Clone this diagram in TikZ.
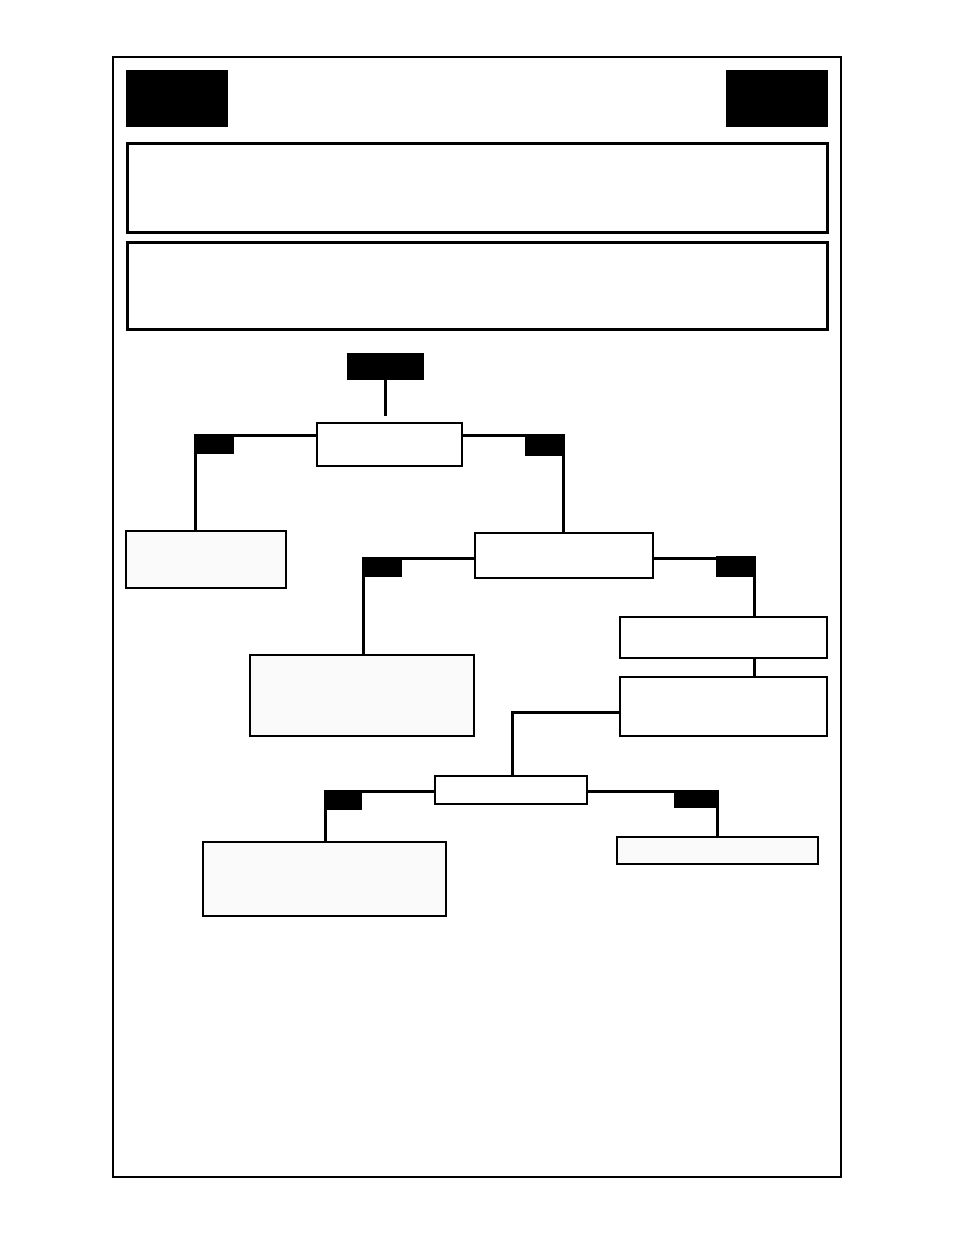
\documentclass[tikz,border=0pt]{standalone}
\definecolor{boxgray}{HTML}{FAFAFA}
\begin{document}
\begin{tikzpicture}[x=1pt,y=-1pt,
  base/.style={inner sep=0pt,outer sep=0pt,anchor=north west},
  frame/.style={base,draw,line width=2pt},
  panel/.style={base,draw,line width=3pt},
  blk/.style={base,fill=black,draw=none},
  box/.style={base,draw,line width=1.8pt,fill=white},
  gbox/.style={box,fill=boxgray},
  conn/.style={line width=3pt},
  tabl/.style={base,fill=black,draw=none},
  tabr/.style={inner sep=0pt,outer sep=0pt,anchor=north east,fill=black,draw=none}]
\useasboundingbox (0,0) rectangle (954,1235);
\fill[white] (0,0) rectangle (954,1235);
% frame and header
\node[frame,minimum width=728pt,minimum height=1120pt] (frm) at (113,57) {};
\node[blk,minimum width=102pt,minimum height=57pt] (hl) at (126,70) {};
\node[blk,minimum width=102pt,minimum height=57pt] (hr) at (726,70) {};
\node[panel,minimum width=700pt,minimum height=89pt] (p1) at (127,143) {};
\node[panel,minimum width=700pt,minimum height=87pt] (p2) at (127,242) {};
% tree nodes
\node[blk,minimum width=77pt,minimum height=27pt] (top) at (347,353) {};
\node[box,minimum width=145pt,minimum height=43pt] (a) at (317,423) {};
\node[gbox,minimum width=160pt,minimum height=57pt] (l1) at (126,531) {};
\node[box,minimum width=178pt,minimum height=45pt] (b) at (475,533) {};
\node[gbox,minimum width=224pt,minimum height=81pt] (l2) at (250,655) {};
\node[box,minimum width=207pt,minimum height=41pt] (c1) at (620,617) {};
\node[box,minimum width=207pt,minimum height=59pt] (c2) at (620,677) {};
\node[box,minimum width=152pt,minimum height=28pt] (d) at (435,776) {};
\node[gbox,minimum width=243pt,minimum height=74pt] (l3) at (203,842) {};
\node[gbox,minimum width=201pt,minimum height=27pt] (r3) at (617,837) {};
\draw[line width=1.8pt] (l3.south west) -- (l3.south east);
% junctions
\coordinate (k0) at (385.5,416);
\coordinate (j1) at (195,435);
\coordinate (j2) at (563,435);
\coordinate (j3) at (363,558);
\coordinate (j4) at (754,558);
\coordinate (j5) at (512,712);
\coordinate (j6) at (325,791);
\coordinate (j7) at (717,791);
% connectors
\draw[conn] (top.south) -- (k0);
\draw[conn] (a.west |- j1) -- (j1) -- (j1 |- l1.north);
\draw[conn] (a.east |- j2) -- (j2) -- (j2 |- b.north);
\draw[conn] (b.west |- j3) -- (j3) -- (j3 |- l2.north);
\draw[conn] (b.east |- j4) -- (j4) -- (j4 |- c1.north);
\draw[conn] (j4 |- c1.south) -- (j4 |- c2.north);
\draw[conn] (c2.west |- j5) -- (j5) -- (j5 |- d.north);
\draw[conn] (d.west |- j6) -- (j6) -- (j6 |- l3.north);
\draw[conn] (d.east |- j7) -- (j7) -- (j7 |- r3.north);
% tabs
\node[tabl,minimum width=40pt,minimum height=20pt] (t1) at ([shift={(-1.5,-1.5)}]j1) {};
\node[tabr,minimum width=40pt,minimum height=22pt] (t2) at ([shift={(1.5,-1.5)}]j2) {};
\node[tabl,minimum width=40pt,minimum height=20pt] (t3) at ([shift={(-1.5,-1.5)}]j3) {};
\node[tabr,minimum width=40pt,minimum height=21pt] (t4) at ([shift={(1.5,-2.5)}]j4) {};
\node[tabl,minimum width=38pt,minimum height=20pt] (t5) at ([shift={(-1.5,-1.5)}]j6) {};
\node[tabr,minimum width=45pt,minimum height=18pt] (t6) at ([shift={(1.5,-1.5)}]j7) {};
\end{tikzpicture}
\end{document}
